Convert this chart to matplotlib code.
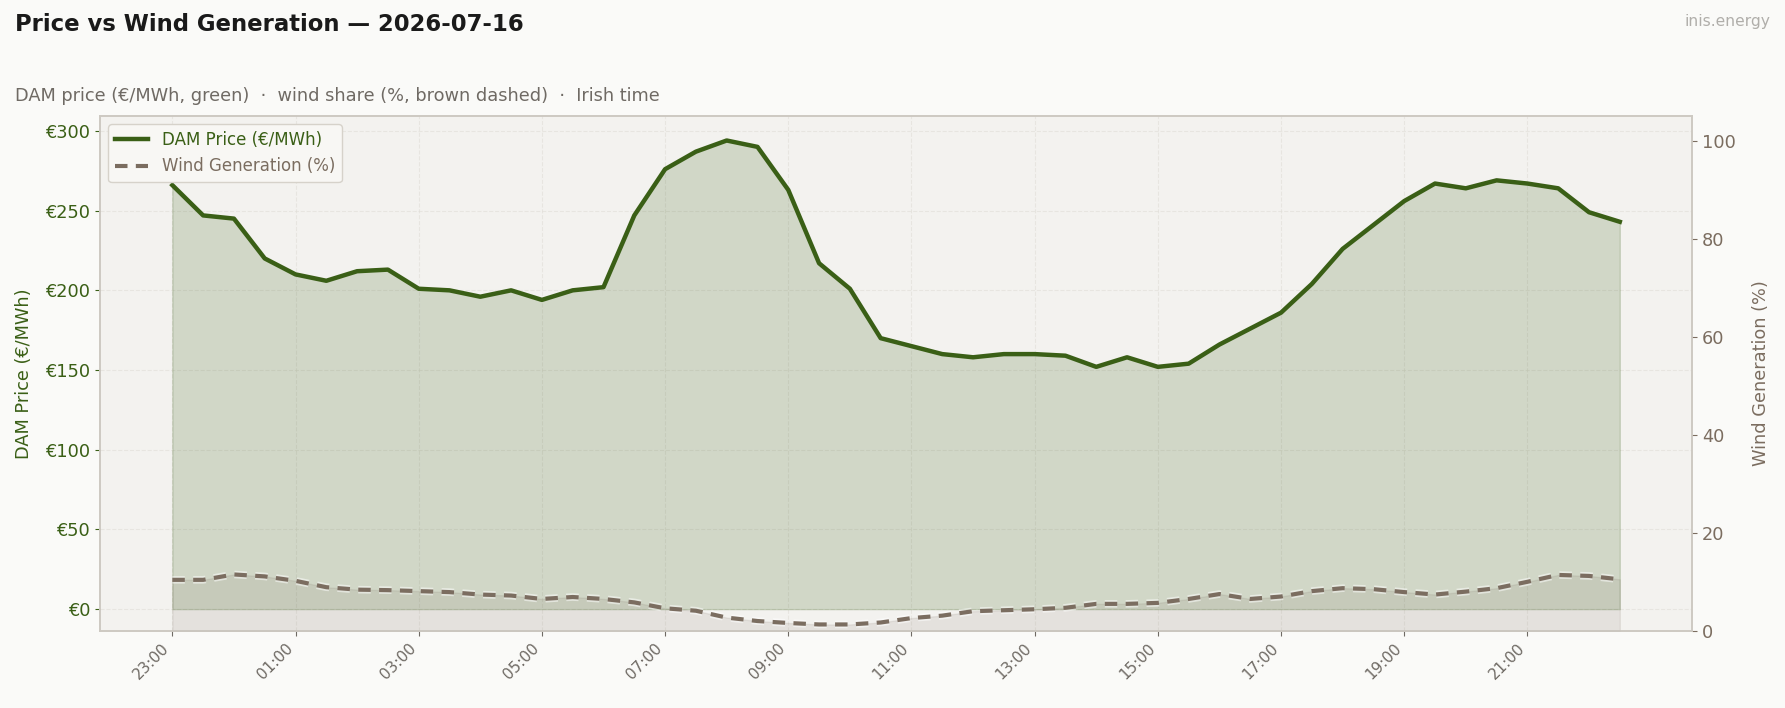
import datetime as dt

import matplotlib
matplotlib.use('Agg')
import matplotlib.pyplot as plt
import matplotlib.dates as mdates
import matplotlib.patheffects as pe
from matplotlib.ticker import FuncFormatter


# half-hourly values, 23:00 (previous day) .. 22:30
start = dt.datetime(2026, 7, 15, 23, 0)
n_slots = 48

price = [266, 247, 245, 220, 210, 206, 212, 213, 201, 200,
         196, 200, 194, 200, 202, 247, 276, 287, 294, 290,
         263, 217, 201, 170, 165, 160, 158, 160, 160, 159,
         152, 158, 152, 154, 166, 176, 186, 204, 226, 241,
         256, 267, 264, 269, 267, 264, 249, 243]

wind = [10.4, 10.4, 11.5, 11.1, 10.2, 8.9, 8.4, 8.3, 8.1, 7.9,
        7.4, 7.2, 6.5, 6.9, 6.5, 5.8, 4.6, 4.1, 2.7, 2.0,
        1.6, 1.3, 1.3, 1.7, 2.6, 3.1, 4.0, 4.2, 4.4, 4.7,
        5.5, 5.5, 5.7, 6.5, 7.5, 6.5, 7.0, 8.1, 8.7, 8.5,
        7.9, 7.4, 8.0, 8.7, 10.0, 11.4, 11.2, 10.5]

title    = 'Price vs Wind Generation \u2014 2026-07-16'
subtitle = 'DAM price (\u20ac/MWh, green)  \u00b7  wind share (%, brown dashed)  \u00b7  Irish time'
brand    = 'inis.energy'

GREEN  = '#3a5f16'
BROWN  = '#7b6d60'
GREY   = '#6f6a64'
SPINE  = '#cdc9c2'

times = [start + dt.timedelta(minutes=30 * i) for i in range(n_slots)]

fig = plt.figure(figsize=(17.85, 7.08), dpi=100, facecolor='#fafaf8')
ax  = fig.add_axes([0.056, 0.109, 0.892, 0.727])
ax.set_facecolor('#f3f2ef')

# (1) price on left axis
ax.fill_between(times, 0, price, color=GREEN, alpha=0.18, zorder=2)
ax.plot(times, price, color=GREEN, lw=3.2, label='DAM Price (\u20ac/MWh)', zorder=4)

ax.set_ylim(-13.6, 309.3)
ax.yaxis.set_major_formatter(FuncFormatter(lambda v, p: f'\u20ac{v:.0f}'))
ax.set_ylabel('DAM Price (\u20ac/MWh)', color=GREEN, fontsize=12.8, labelpad=9)
ax.tick_params(axis='y', colors=GREEN, labelsize=12.8)
ax.tick_params(axis='x', colors=GREY, labelsize=11)
ax.grid(True, ls='--', lw=0.8, color='#e0ddd7', alpha=0.6, zorder=0)
ax.set_axisbelow(True)

# ticks every 2 h, on the data slots only
ax.set_xticks(times[::4])
ax.xaxis.set_major_formatter(mdates.DateFormatter('%H:%M'))
for lbl in ax.get_xticklabels():
    lbl.set_rotation(45)
    lbl.set_ha('right')

# (2) wind on right axis
ax2 = ax.twinx()
ax2.fill_between(times, 0, wind, color=BROWN, alpha=0.12, zorder=2)
ax2.plot(times, wind, color=BROWN, lw=3.0, ls=(0, (3, 2)), label='Wind Generation (%)', zorder=4,
         path_effects=[pe.Stroke(linewidth=5.5, foreground='white', alpha=0.5), pe.Normal()])
ax2.set_ylim(0, 105)
ax2.set_ylabel('Wind Generation (%)', color=BROWN, fontsize=12.8, labelpad=12)
ax2.tick_params(axis='y', colors=BROWN, labelsize=12.8)

for a in (ax, ax2):
    for s in a.spines.values():
        s.set_color(SPINE)
        s.set_linewidth(1.2)

h1, l1 = ax.get_legend_handles_labels()
h2, l2 = ax2.get_legend_handles_labels()
leg = ax.legend(h1 + h2, l1 + l2, loc='upper left', fontsize=12, frameon=True,
                facecolor='#f8f7f4', edgecolor='#d6d2ca', framealpha=1.0)
leg.get_texts()[0].set_color(GREEN)
leg.get_texts()[1].set_color(BROWN)
leg.set_zorder(10)

fig.text(0.0084, 0.965, title, fontsize=16.4, fontweight='bold', color='#1a1a1a', va='center')
fig.text(0.0084, 0.865, subtitle, fontsize=12.8, color=GREY, va='center')
fig.text(0.9917, 0.969, brand, fontsize=11.2, color='#b0aeaa', ha='right', va='center')

fig.savefig('out.png', dpi=100, facecolor=fig.get_facecolor())
